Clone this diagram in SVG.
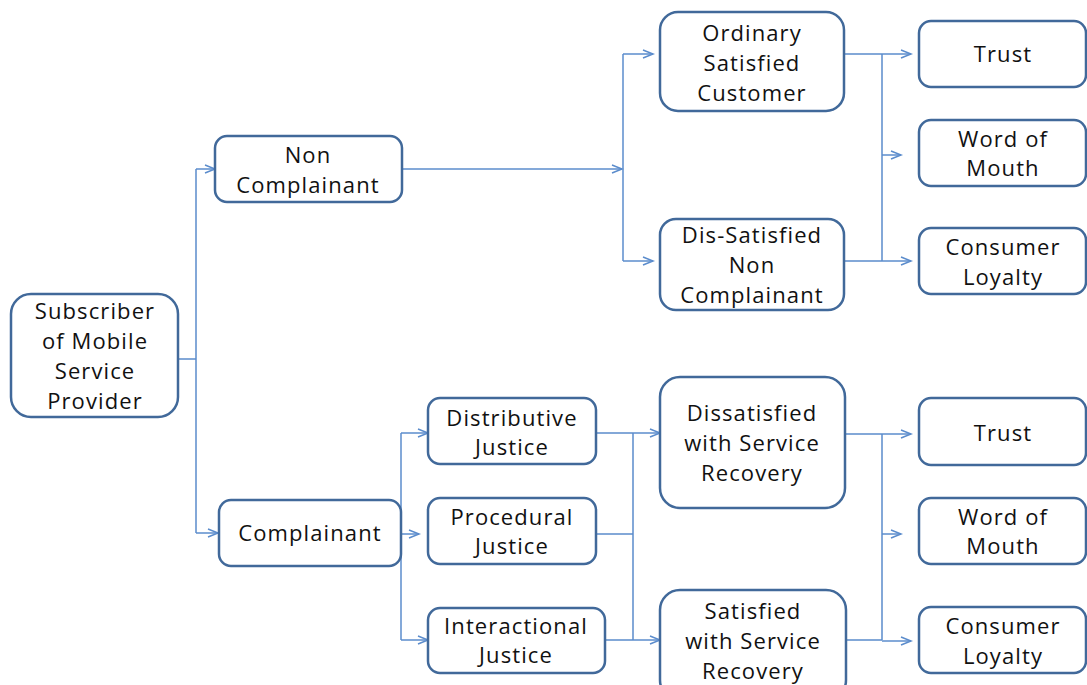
<svg xmlns="http://www.w3.org/2000/svg" width="1087" height="685" viewBox="0 0 1087 685">
  <style>
    .box { fill: #ffffff; stroke: #41699a; stroke-width: 2.5; }
    .lbl { font-family: "Open Sans", "Liberation Sans", sans-serif; font-size: 22px; letter-spacing: 1.1px; fill: #111111; text-anchor: middle; }
    .wire { fill: none; stroke: #5b8ccc; stroke-width: 1.5; }
    .arr { fill: none; stroke: #5b8ccc; stroke-width: 1.5; marker-end: url(#chev); }
  </style>
  <defs>
    <marker id="chev" markerUnits="userSpaceOnUse" markerWidth="14" markerHeight="12" refX="11" refY="5" orient="auto">
      <path d="M1,1 L11,5 L1,9" fill="none" stroke="#5b8ccc" stroke-width="1.5"/>
    </marker>
  </defs>
  <rect width="1087" height="685" fill="#ffffff"/>

  <g id="connectors">
    <!-- subscriber split -->
    <path class="wire" d="M178,359 H196 M196,169 V533"/>
    <path class="arr" d="M196,169 H215"/>
    <path class="arr" d="M196,533 H218"/>
    <!-- non complainant branch -->
    <path class="arr" d="M402,169 H622"/>
    <path class="wire" d="M623,54 V261"/>
    <path class="arr" d="M623,54 H653"/>
    <path class="arr" d="M623,261 H653"/>
    <path class="wire" d="M844,54 H882 M844,261 H882 M882,54 V261"/>
    <path class="arr" d="M882,54 H911"/>
    <path class="arr" d="M882,155 H901"/>
    <path class="arr" d="M882,261 H911"/>
    <!-- complainant branch -->
    <path class="wire" d="M401,433 V640"/>
    <path class="arr" d="M401,433 H428"/>
    <path class="arr" d="M401,534 H419"/>
    <path class="arr" d="M401,640 H428"/>
    <path class="wire" d="M596,433 H633 M596,534 H633 M605,640 H633 M633,433 V640"/>
    <path class="arr" d="M633,433 H660"/>
    <path class="arr" d="M633,640 H660"/>
    <path class="wire" d="M845,434 H882 M846,640 H882 M882,434 V640"/>
    <path class="arr" d="M882,434 H911"/>
    <path class="arr" d="M882,534 H901"/>
    <path class="arr" d="M882,641 H911"/>
  </g>

  <g id="subscriber">
    <rect class="box" x="11" y="294" width="167" height="123" rx="20"/>
    <text class="lbl" x="95" y="319">Subscriber</text>
    <text class="lbl" x="95" y="349">of Mobile</text>
    <text class="lbl" x="95" y="379">Service</text>
    <text class="lbl" x="95" y="409">Provider</text>
  </g>

  <g id="non-complainant">
    <rect class="box" x="215" y="136" width="187" height="66" rx="12"/>
    <text class="lbl" x="308" y="163">Non</text>
    <text class="lbl" x="308" y="193">Complainant</text>
  </g>

  <g id="complainant">
    <rect class="box" x="219" y="500" width="182" height="66" rx="12"/>
    <text class="lbl" x="310" y="541">Complainant</text>
  </g>

  <g id="ordinary-satisfied">
    <rect class="box" x="660" y="12" width="184" height="99" rx="18"/>
    <text class="lbl" x="752" y="41">Ordinary</text>
    <text class="lbl" x="752" y="71">Satisfied</text>
    <text class="lbl" x="752" y="101">Customer</text>
  </g>

  <g id="dis-satisfied">
    <rect class="box" x="660" y="219" width="184" height="91" rx="16"/>
    <text class="lbl" x="752" y="243">Dis-Satisfied</text>
    <text class="lbl" x="752" y="273">Non</text>
    <text class="lbl" x="752" y="303">Complainant</text>
  </g>

  <g id="trust-1">
    <rect class="box" x="919" y="21" width="167" height="66" rx="12"/>
    <text class="lbl" x="1003" y="62">Trust</text>
  </g>

  <g id="word-of-mouth-1">
    <rect class="box" x="919" y="120" width="167" height="66" rx="12"/>
    <text class="lbl" x="1003" y="147">Word of</text>
    <text class="lbl" x="1003" y="176">Mouth</text>
  </g>

  <g id="loyalty-1">
    <rect class="box" x="919" y="228" width="167" height="66" rx="12"/>
    <text class="lbl" x="1003" y="255">Consumer</text>
    <text class="lbl" x="1003" y="285">Loyalty</text>
  </g>

  <g id="distributive">
    <rect class="box" x="428" y="398" width="168" height="66" rx="12"/>
    <text class="lbl" x="512" y="426">Distributive</text>
    <text class="lbl" x="512" y="455">Justice</text>
  </g>

  <g id="procedural">
    <rect class="box" x="428" y="498" width="168" height="66" rx="12"/>
    <text class="lbl" x="512" y="525">Procedural</text>
    <text class="lbl" x="512" y="554">Justice</text>
  </g>

  <g id="interactional">
    <rect class="box" x="428" y="608" width="177" height="65" rx="12"/>
    <text class="lbl" x="516" y="634">Interactional</text>
    <text class="lbl" x="516" y="663">Justice</text>
  </g>

  <g id="dissatisfied-recovery">
    <rect class="box" x="660" y="377" width="185" height="131" rx="20"/>
    <text class="lbl" x="752" y="421">Dissatisfied</text>
    <text class="lbl" x="752" y="451">with Service</text>
    <text class="lbl" x="752" y="481">Recovery</text>
  </g>

  <g id="satisfied-recovery">
    <rect class="box" x="660" y="590" width="186" height="110" rx="20"/>
    <text class="lbl" x="753" y="619">Satisfied</text>
    <text class="lbl" x="753" y="649">with Service</text>
    <text class="lbl" x="753" y="679">Recovery</text>
  </g>

  <g id="trust-2">
    <rect class="box" x="919" y="398" width="167" height="67" rx="12"/>
    <text class="lbl" x="1003" y="441">Trust</text>
  </g>

  <g id="word-of-mouth-2">
    <rect class="box" x="919" y="498" width="167" height="66" rx="12"/>
    <text class="lbl" x="1003" y="525">Word of</text>
    <text class="lbl" x="1003" y="554">Mouth</text>
  </g>

  <g id="loyalty-2">
    <rect class="box" x="919" y="607" width="167" height="66" rx="12"/>
    <text class="lbl" x="1003" y="634">Consumer</text>
    <text class="lbl" x="1003" y="664">Loyalty</text>
  </g>
</svg>
